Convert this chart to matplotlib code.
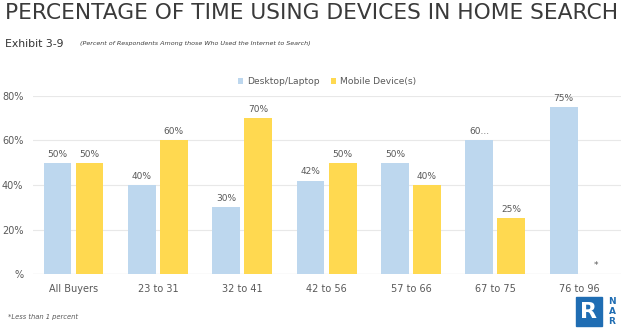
import numpy as np
import matplotlib.pyplot as plt
from matplotlib.patches import Rectangle

groups = ['All Buyers', '23 to 31', '32 to 41', '42 to 56', '57 to 66', '67 to 75', '76 to 96']
desktop = [50, 40, 30, 42, 50, 60, 75]
mobile = [50, 60, 70, 50, 40, 25, 0]
desktop_labels = ['50%', '40%', '30%', '42%', '50%', '60...', '75%']
mobile_labels = ['50%', '60%', '70%', '50%', '40%', '25%', '*']
yticks = [0, 20, 40, 60, 80]
ytick_labels = ['%', '20%', '40%', '60%', '80%']

blue = '#bdd7ee'
yellow = '#ffd950'
grey = '#595959'

W, H = 625, 333
fig = plt.figure(figsize=(W / 100, H / 100), dpi=100)
fig.patch.set_facecolor('white')

def fx(px):
    return px / W

def fy(py):
    return 1 - py / H

ax = fig.add_axes([fx(33), fy(274), fx(621) - fx(33), fy(96) - fy(274)])
x = np.arange(len(groups))
w = 0.33
off = 0.19
b1 = ax.bar(x - off, desktop, w, color=blue, label='Desktop/Laptop', zorder=3)
b2 = ax.bar(x + off, mobile, w, color=yellow, label='Mobile Device(s)', zorder=3)

for bars, labels in [(b1, desktop_labels), (b2, mobile_labels)]:
    for r, lab in zip(bars, labels):
        ax.annotate(lab, (r.get_x() + r.get_width() / 2, r.get_height()),
                    xytext=(0, 3), textcoords='offset points',
                    ha='center', va='bottom', fontsize=6.5, color=grey)

ax.set_xlim(-0.48, 6.49)
ax.set_ylim(0, 80)
ax.set_yticks(yticks)
ax.set_yticklabels(ytick_labels)
ax.set_xticks(x)
ax.set_xticklabels(groups)
ax.tick_params(axis='both', length=0, labelsize=7, colors=grey)
ax.tick_params(axis='x', pad=7)
ax.tick_params(axis='y', pad=7)
ax.grid(axis='y', color='#e8e8e8', linewidth=0.8, zorder=0)
for s in ax.spines.values():
    s.set_visible(False)
ax.axhline(0, color='#d0d0d0', linewidth=0.8, zorder=2)

ax.legend(loc='lower center', bbox_to_anchor=(0.5, 1.01), ncol=2, frameon=False,
          fontsize=6.6, handlelength=0.6, handleheight=0.6, handletextpad=0.4,
          columnspacing=1.2, labelcolor=grey)

fig.text(fx(5), fy(13), 'PERCENTAGE OF TIME USING DEVICES IN HOME SEARCH',
         fontsize=15.7, color='#3a3a3a', va='center', ha='left')
fig.text(fx(5), fy(44), 'Exhibit 3-9', fontsize=7.8, color='#333333', va='center')
fig.text(fx(80), fy(44), '(Percent of Respondents Among those Who Used the Internet to Search)',
         fontsize=4.6, style='italic', color='#404040', va='center')
fig.text(fx(8), fy(317), '*Less than 1 percent', fontsize=4.9, style='italic',
         color=grey, va='center')

# NAR logo block
nar_blue = '#1f6db3'
fig.patches.append(Rectangle((fx(576), fy(326)), fx(602) - fx(576), fy(297) - fy(326),
                             transform=fig.transFigure, color=nar_blue))
fig.text(fx(589), fy(312), 'R', fontsize=16, fontweight='bold', color='white',
         ha='center', va='center')
for i, ch in enumerate('NAR'):
    fig.text(fx(612), fy(302 + i * 10), ch, fontsize=6.5, fontweight='bold',
             color=nar_blue, ha='center', va='center')

fig.savefig('out.png', dpi=100)
